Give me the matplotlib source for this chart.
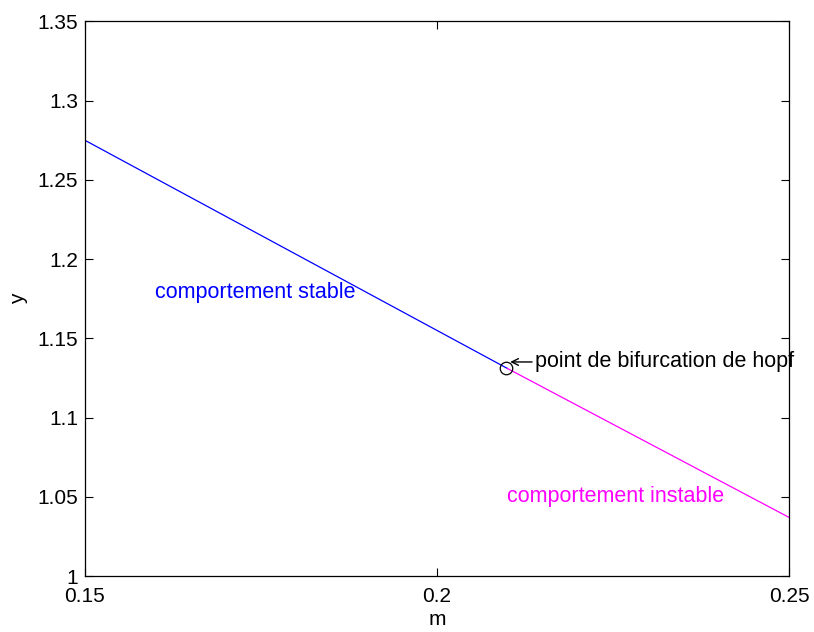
import matplotlib
matplotlib.use("Agg")
import matplotlib.pyplot as plt

plt.rcParams['font.family'] = ['Liberation Sans', 'DejaVu Sans']

# Stable branch (blue) and unstable branch (magenta) of y versus m
m_stable = [0.15, 0.21]
y_stable = [1.275, 1.131]
m_unstable = [0.21, 0.25]
y_unstable = [1.131, 1.037]

# Hopf bifurcation point
m_hopf = 0.2098
y_hopf = 1.131

x_ticks = [0.15, 0.2, 0.25]
x_tick_labels = ['0.15', '0.2', '0.25']
y_ticks = [1, 1.05, 1.1, 1.15, 1.2, 1.25, 1.3, 1.35]
y_tick_labels = ['1', '1.05', '1.1', '1.15', '1.2', '1.25', '1.3', '1.35']

FS_TICK = 15
FS_TEXT = 15.5

fig = plt.figure(figsize=(8.14, 6.32), dpi=100)
ax = fig.add_axes([0.1044, 0.0886, 0.8649, 0.8774])

ax.plot(m_stable, y_stable, color='#0000ff', lw=0.9)
ax.plot(m_unstable, y_unstable, color='#ff00ff', lw=0.9)
ax.plot([m_hopf], [y_hopf], 'o', ms=9, mfc='none', mec='black', mew=0.9)

ax.text(0.16, 1.179, 'comportement stable', color='#0000ff', fontsize=FS_TEXT,
        ha='left', va='center')
ax.text(0.21, 1.05, 'comportement instable', color='#ff00ff', fontsize=FS_TEXT,
        ha='left', va='center')
# Annotation with a leftward arrow pointing at the bifurcation point
ax.annotate('point de bifurcation de hopf', xy=(0.2104, 1.1351), xytext=(0.2139, 1.1351),
            fontsize=FS_TEXT, ha='left', va='center', color='black',
            annotation_clip=False,
            arrowprops=dict(arrowstyle='->', color='black', lw=1.0,
                            shrinkA=0, shrinkB=0, mutation_scale=12))

ax.set_xlim(0.15, 0.25)
ax.set_ylim(1, 1.35)
ax.set_xticks(x_ticks)
ax.set_xticklabels(x_tick_labels)
ax.set_yticks(y_ticks)
ax.set_yticklabels(y_tick_labels)
ax.tick_params(direction='in', top=True, right=True, length=6, width=0.8,
               labelsize=FS_TICK)
ax.tick_params(axis='x', pad=8)
ax.tick_params(axis='y', pad=5)
ax.set_xlabel('m', fontsize=FS_TICK, labelpad=3)
ax.set_ylabel('y', fontsize=FS_TICK, labelpad=7)
for s in ax.spines.values():
    s.set_linewidth(0.9)

fig.savefig('out.png', dpi=100)
